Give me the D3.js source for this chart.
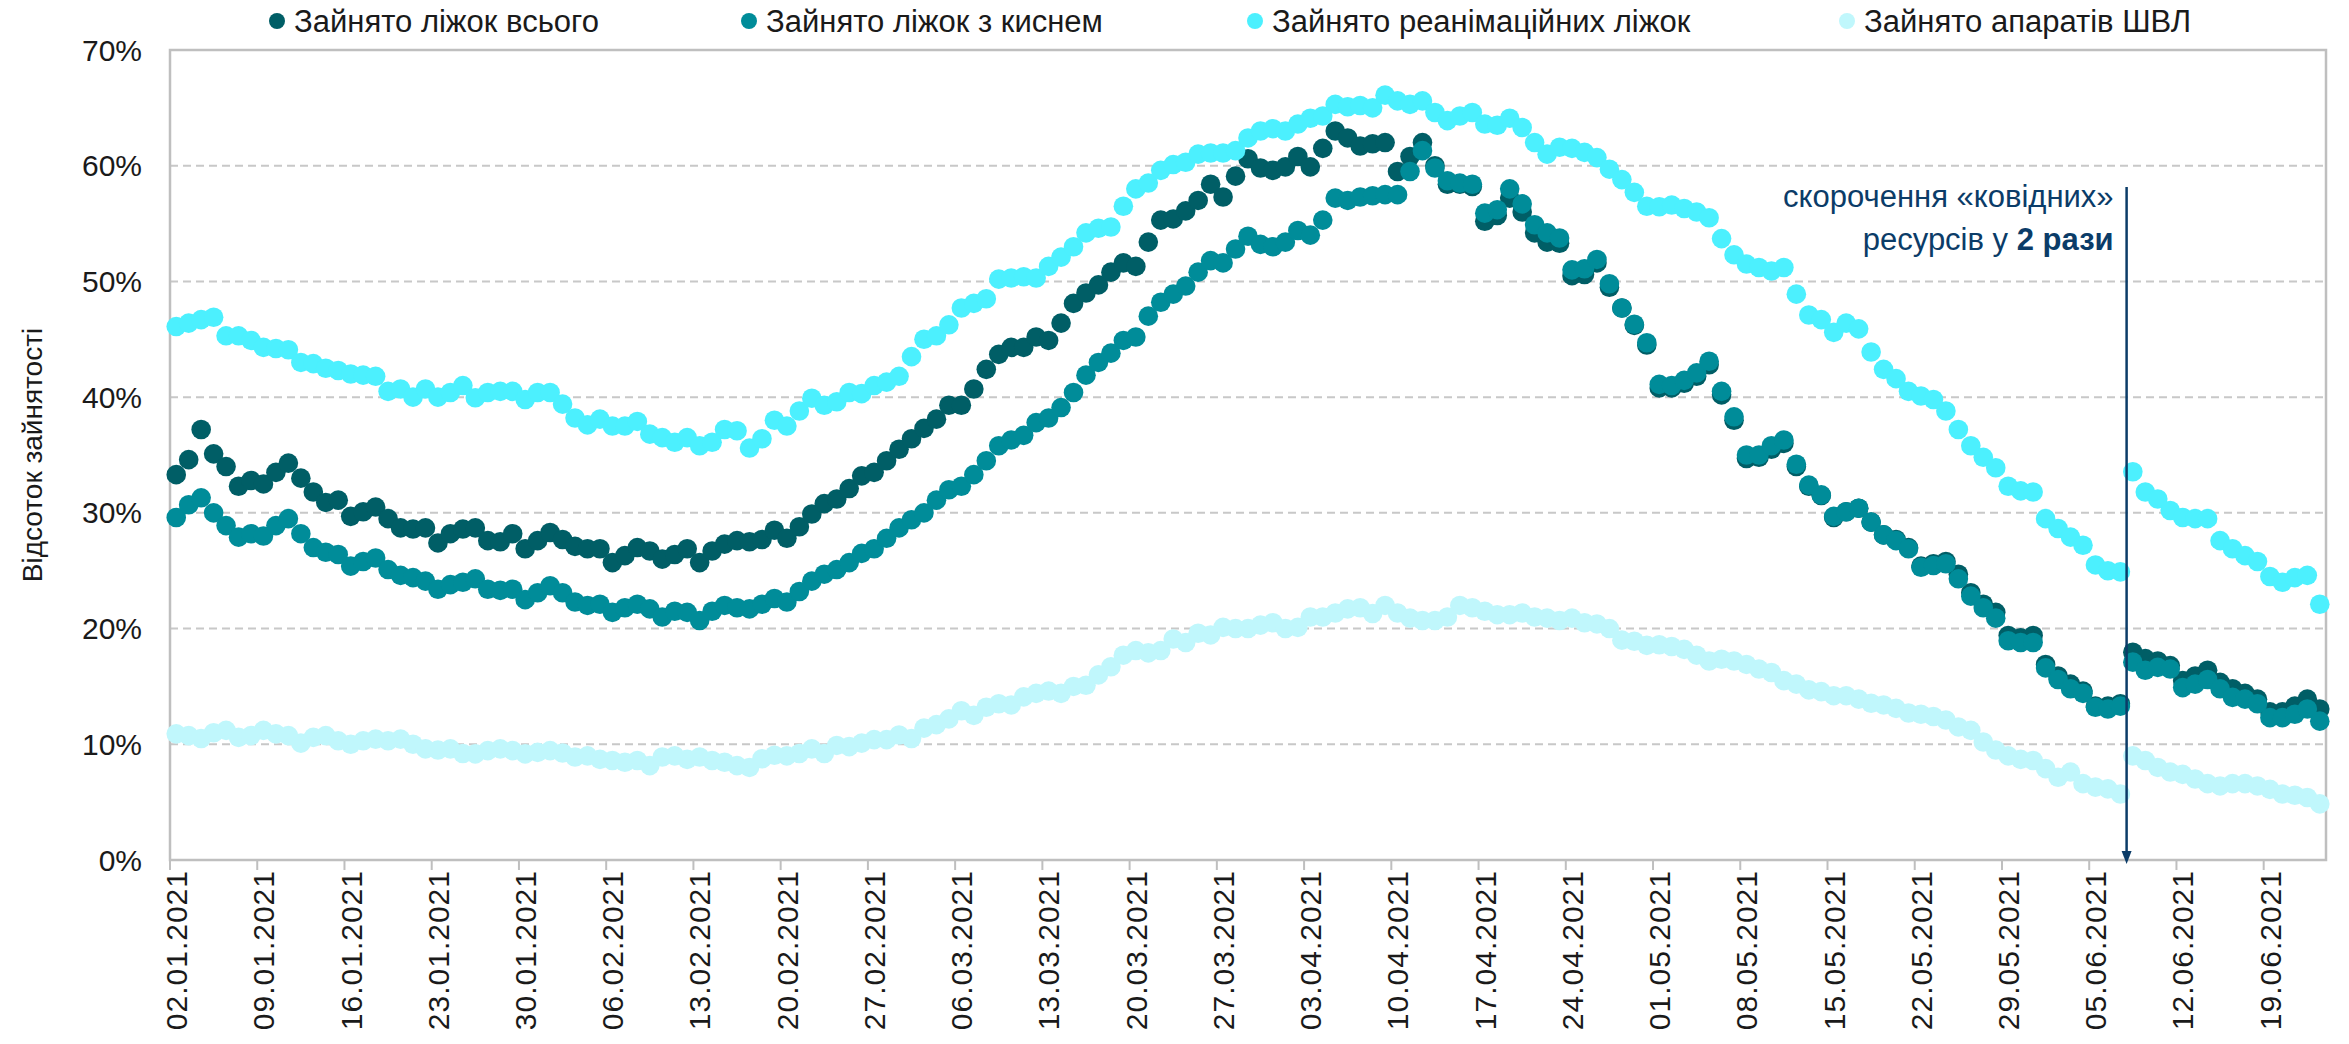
<!DOCTYPE html>
<html><head><meta charset="utf-8">
<script src="https://cdn.jsdelivr.net/npm/d3@7"></script>
<style>body{margin:0;background:#fff}svg{display:block}</style>
</head><body>
<svg id="chart" width="2349" height="1044"></svg>
<script>
// ---- data ----
const seriesNames = ["Зайнято ліжок всього", "Зайнято ліжок з киснем", "Зайнято реанімаційних ліжок", "Зайнято апаратів ШВЛ"];
const seriesColors = ["#005E66", "#008C99", "#4CF0FE", "#C0F7FC"];
const firstDay = "2021-01-02";
const tickLabels = ["02.01.2021","09.01.2021","16.01.2021","23.01.2021","30.01.2021","06.02.2021","13.02.2021","20.02.2021","27.02.2021","06.03.2021","13.03.2021","20.03.2021","27.03.2021","03.04.2021","10.04.2021","17.04.2021","24.04.2021","01.05.2021","08.05.2021","15.05.2021","22.05.2021","29.05.2021","05.06.2021","12.06.2021","19.06.2021"];
const yTicks = [0, 10, 20, 30, 40, 50, 60, 70];

const total = [
 33.3,34.6,37.2,35.1,34.0,32.3,32.8,32.5,33.5,34.3,33.0,31.8,30.9,31.1,29.7,30.1,30.5,29.5,28.7,28.6,28.7,27.4,28.2,28.6,
 28.7,27.6,27.5,28.2,26.9,27.6,28.3,27.7,27.1,26.9,26.9,25.7,26.3,27.0,26.7,26.0,26.4,26.9,25.7,26.7,27.3,27.6,27.5,
 27.7,28.5,27.8,28.8,29.9,30.8,31.2,32.1,33.2,33.5,34.5,35.5,36.4,37.3,38.1,39.3,39.3,40.7,42.4,43.7,44.3,44.3,45.2,44.9,
 46.4,48.1,49.0,49.7,50.8,51.6,51.3,53.4,55.3,55.4,56.1,57.0,58.4,57.3,59.1,60.6,59.8,59.6,59.9,60.8,59.9,61.5,63.0,62.4,61.7,61.9,
 62.0,59.5,60.8,62.0,60.0,58.4,58.4,58.2,55.2,55.7,57.2,56.0,54.2,53.4,53.3,50.5,50.6,51.6,49.5,47.7,46.2,44.5,40.8,40.8,
 41.2,41.8,42.8,40.2,38.0,34.7,34.8,35.5,36.0,34.0,32.3,31.5,29.6,30.1,30.4,29.2,28.1,27.7,27.0,25.4,25.6,25.8,24.7,23.1,
 22.1,21.4,19.4,19.2,19.4,16.9,15.9,15.2,14.6,13.3,13.3,13.5,17.95,17.4,17.2,16.8,15.5,15.9,16.4,15.35,14.8,14.4,13.9,12.8,12.8,13.3,13.9,13.05
];
const oxygen = [
 29.6,30.7,31.3,30.0,28.9,27.9,28.2,28.0,28.9,29.5,28.2,27.0,26.6,26.4,25.4,25.8,26.1,25.1,24.6,24.4,24.1,23.4,23.8,24.0,
 24.3,23.4,23.3,23.4,22.5,23.1,23.7,23.1,22.3,22.0,22.1,21.4,21.8,22.1,21.7,21.0,21.5,21.4,20.7,21.5,22.0,21.8,21.7,
 22.1,22.6,22.3,23.2,24.1,24.7,25.1,25.7,26.5,26.9,27.8,28.7,29.4,30.0,31.1,32.0,32.3,33.3,34.5,35.8,36.3,36.7,37.8,38.2,
 39.1,40.4,41.9,43.0,43.8,44.9,45.2,47.0,48.2,48.9,49.6,50.8,51.8,51.6,52.8,53.9,53.2,53.0,53.4,54.4,54.0,55.3,57.2,57.0,57.3,57.4,
 57.5,57.5,59.5,61.3,59.8,58.7,58.5,58.4,55.9,56.2,58.0,56.7,54.9,54.2,53.75,51.0,51.1,51.9,49.8,47.7,46.3,44.7,41.1,41.0,
 41.45,42.1,43.1,40.5,38.3,35.0,35.0,35.8,36.3,34.2,32.4,31.55,29.7,30.1,30.4,29.2,28.1,27.6,26.9,25.3,25.45,25.6,24.3,22.8,
 21.8,20.9,18.95,18.8,18.8,16.6,15.6,14.8,14.4,13.2,13.05,13.3,17.1,16.4,16.65,16.5,14.9,15.2,15.6,14.8,14.05,13.9,13.5,12.3,12.3,12.6,13.05,12.0
];
const icu = [
 46.1,46.4,46.7,46.9,45.3,45.3,44.9,44.3,44.2,44.1,43.0,42.9,42.5,42.3,42.0,41.9,41.8,40.5,40.7,40.0,40.7,40.0,40.4,41.0,
 39.95,40.4,40.5,40.5,39.8,40.4,40.4,39.4,38.2,37.6,38.1,37.5,37.5,37.9,36.8,36.5,36.1,36.5,35.8,36.1,37.2,37.1,35.6,
 36.4,38.0,37.5,38.8,39.9,39.3,39.6,40.4,40.3,41.0,41.3,41.8,43.5,45.0,45.3,46.25,47.7,48.1,48.5,50.2,50.3,50.4,50.3,51.3,
 52.1,53.0,54.2,54.6,54.7,56.5,58.0,58.5,59.6,60.1,60.3,61.0,61.1,61.1,61.3,62.4,63.0,63.2,63.0,63.6,64.1,64.3,65.3,65.1,65.2,65.0,
 66.1,65.6,65.3,65.6,64.6,63.9,64.3,64.6,63.6,63.5,64.1,63.3,62.0,61.0,61.6,61.5,61.15,60.7,59.7,58.8,57.7,56.5,56.45,56.6,
 56.3,56.0,55.5,53.7,52.3,51.5,51.2,50.9,51.2,48.9,47.1,46.7,45.6,46.4,45.9,43.9,42.4,41.6,40.5,40.1,39.8,38.8,37.2,35.8,
 34.8,33.9,32.3,31.9,31.8,29.5,28.65,27.9,27.2,25.5,25.0,24.9,33.55,31.8,31.2,30.2,29.6,29.5,29.5,27.6,26.9,26.3,25.8,24.5,24.0,24.4,24.6,22.1
];
const ventilators = [
 10.9,10.75,10.5,11.0,11.2,10.6,10.75,11.2,10.9,10.75,10.1,10.6,10.75,10.3,10.0,10.3,10.45,10.3,10.45,10.0,9.6,9.5,9.6,9.2,
 9.17,9.45,9.6,9.45,9.17,9.3,9.45,9.25,8.9,9.0,8.7,8.6,8.45,8.6,8.16,8.9,9.0,8.7,8.9,8.6,8.45,8.16,8.0,
 8.75,9.05,9.0,9.2,9.6,9.2,9.9,9.8,10.1,10.4,10.4,10.8,10.5,11.4,11.7,12.2,12.9,12.5,13.2,13.5,13.4,14.1,14.4,14.6,
 14.4,15.0,15.1,16.0,16.7,17.7,18.1,17.9,18.1,19.1,18.8,19.6,19.45,20.1,20.0,20.0,20.3,20.5,20.0,20.1,21.0,21.0,21.35,21.7,21.8,21.3,
 22.0,21.35,20.9,20.7,20.7,21.0,22.0,21.8,21.5,21.2,21.2,21.35,21.0,20.9,20.7,20.9,20.5,20.4,20.0,19.0,18.9,18.55,18.6,18.45,
 18.2,17.7,17.2,17.35,17.2,16.9,16.5,16.2,15.5,15.2,14.7,14.55,14.2,14.2,13.9,13.55,13.4,13.1,12.7,12.6,12.4,12.1,11.5,11.2,
 10.2,9.5,9.0,8.7,8.6,7.9,7.15,7.6,6.6,6.3,6.15,5.7,9.0,8.6,8.0,7.6,7.4,7.0,6.6,6.4,6.6,6.6,6.4,6.1,5.7,5.6,5.4,4.85
];
const annotationLine1 = "скорочення «ковідних»";
const annotationLine2a = "ресурсів у ";
const annotationLine2b = "2 рази";
const annotationIndex = 157; // resource cut between 07.06 and 08.06
const yTitle = "Відсоток зайнятості";

// ---- chart ----
const svg = d3.select("#chart");
const W = 2349, H = 1044;
const m = {left: 170, right: 2326, top: 50, bottom: 860};
const n = total.length;
const parse = d3.timeParse("%Y-%m-%d");
const fmt = d3.timeFormat("%d.%m.%Y");
const d0 = parse(firstDay);
const categories = d3.timeDay.range(d0, d3.timeDay.offset(d0, n)).map(fmt);

const x = d3.scaleBand().domain(categories).range([m.left, m.right]).padding(0);
const y = d3.scaleLinear().domain([0, 70]).range([m.bottom, m.top]);
const bw = x.bandwidth();

svg.append("rect").attr("width", W).attr("height", H).attr("fill", "#fff");

// gridlines
svg.append("g").selectAll("line").data(yTicks.filter(v => v > 0 && v < 70)).join("line")
  .attr("x1", m.left).attr("x2", m.right)
  .attr("y1", d => y(d)).attr("y2", d => y(d))
  .attr("stroke", "#C8C8C8").attr("stroke-width", 2).attr("stroke-dasharray", "8,5");

// plot frame
svg.append("rect").attr("x", m.left).attr("y", y(70)).attr("width", m.right - m.left).attr("height", y(0) - y(70))
  .attr("fill", "none").attr("stroke", "#BFBFBF").attr("stroke-width", 2.5);

// y tick labels
svg.append("g").selectAll("text").data(yTicks).join("text")
  .attr("x", 142).attr("y", d => y(d)).attr("dy", "0.35em")
  .attr("text-anchor", "end")
  .style("font-family", "'Liberation Sans', Arial, sans-serif").style("font-size", "30px").attr("fill", "#1a1a1a")
  .text(d => d + "%");

// y title
svg.append("text")
  .attr("transform", `translate(32,${(y(0) + y(70)) / 2}) rotate(-90)`)
  .attr("text-anchor", "middle").attr("dy", "0.35em")
  .style("font-family", "'Liberation Sans', Arial, sans-serif").style("font-size", "28px").attr("fill", "#1a1a1a")
  .text(yTitle);

// x ticks & labels
const tickIdx = tickLabels.map(l => categories.indexOf(l));
const xg = svg.append("g");
xg.selectAll("line").data(tickIdx).join("line")
  .attr("x1", i => x(categories[i])).attr("x2", i => x(categories[i]))
  .attr("y1", m.bottom).attr("y2", m.bottom + 10)
  .attr("stroke", "#BFBFBF").attr("stroke-width", 2);
xg.selectAll("text").data(tickLabels).join("text")
  .attr("transform", l => `translate(${x(l) + bw / 2},${m.bottom + 10}) rotate(-90)`)
  .attr("text-anchor", "end").attr("dy", "0.36em")
  .style("font-family", "'Liberation Sans', Arial, sans-serif").style("font-size", "30px")
  .style("letter-spacing", "1px").attr("fill", "#1a1a1a")
  .text(l => l);

// series dots
const seriesData = [total, oxygen, icu, ventilators];
seriesData.forEach((vals, s) => {
  svg.append("g").selectAll("circle").data(vals).join("circle")
    .attr("cx", (v, i) => x(categories[i]) + bw / 2)
    .attr("cy", v => y(v))
    .attr("r", 9.8)
    .attr("fill", seriesColors[s]);
});

// legend
const legendX = [277, 749, 1255, 1847];
const lg = svg.append("g");
seriesNames.forEach((name, i) => {
  lg.append("circle").attr("cx", legendX[i]).attr("cy", 21).attr("r", 8).attr("fill", seriesColors[i]);
  lg.append("text").attr("x", legendX[i] + 17).attr("y", 21).attr("dy", "0.36em")
    .style("font-family", "'Liberation Sans', Arial, sans-serif")
    .style("font-size", "31px").attr("fill", "#1a1a1a")
    .text(name);
});

// annotation
const ax = x(categories[annotationIndex]);
const navy = "#0B3C68";
svg.append("line").attr("x1", ax).attr("x2", ax).attr("y1", 187).attr("y2", m.bottom - 6)
  .attr("stroke", navy).attr("stroke-width", 2.5);
svg.append("path").attr("d", `M${ax - 5},${m.bottom - 9} L${ax + 5},${m.bottom - 9} L${ax},${m.bottom + 4} Z`).attr("fill", navy);
const at = svg.append("g").style("font-family", "'Liberation Sans', Arial, sans-serif").style("font-size", "31px").attr("fill", navy);
at.append("text").attr("x", ax - 13).attr("y", 207).attr("text-anchor", "end").text(annotationLine1);
const t2 = at.append("text").attr("x", ax - 13).attr("y", 250).attr("text-anchor", "end");
t2.append("tspan").text(annotationLine2a);
t2.append("tspan").style("font-weight", "bold").text(annotationLine2b);
</script>
</body></html>
